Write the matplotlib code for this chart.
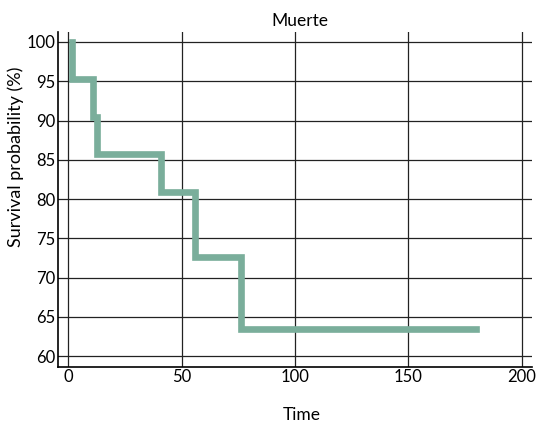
import matplotlib
matplotlib.use("Agg")
import matplotlib.pyplot as plt

# Kaplan-Meier step data (time, survival %)
times = [1.5, 1.5, 11.0, 12.9, 40.9, 55.8, 76.0, 180.0]
survival = [100.0, 95.24, 90.48, 85.71, 80.95, 72.6, 63.5, 63.5]
xticks = [0, 50, 100, 150, 200]
yticks = [60, 65, 70, 75, 80, 85, 90, 95, 100]

plt.rcParams['font.family'] = ['Lato', 'DejaVu Sans']

fig = plt.figure(figsize=(5.41, 4.23), dpi=100)
ax = fig.add_axes([58/541, 1-366.5/423, (532-58)/541, (366.5-31.7)/423])

ax.step(times, survival, where='post', color='#7aae9b', lw=4.8, solid_joinstyle='miter', zorder=3)

ax.set_xlim(-4.5, 204.5)
ax.set_ylim(58.7, 101.3)
ax.set_xticks(xticks)
ax.set_yticks(yticks)
ax.grid(True, color='#222222', lw=0.9)
ax.set_axisbelow(True)
for s in ['top', 'right']:
    ax.spines[s].set_visible(False)
for s in ['left', 'bottom']:
    ax.spines[s].set_color('black')
    ax.spines[s].set_linewidth(1.2)
ax.tick_params(length=0, labelsize=12, pad=2)
ax.set_xlabel('Time', fontsize=12.5)
ax.xaxis.set_label_coords((302-58)/474, -(420-366.5)/334.8, transform=ax.transAxes)
ax.xaxis.label.set_va('baseline')
ax.set_ylabel('Survival probability (%)', fontsize=13)
ax.yaxis.set_label_coords(-(58-7)/474, (366.5-157)/334.8, transform=ax.transAxes)
ax.yaxis.label.set_va('top')
ax.text((300-58)/474, 1+(31.7-26)/334.8, 'Muerte', transform=ax.transAxes,
        ha='center', va='baseline', fontsize=12.5)

fig.savefig('out.png', dpi=100)
